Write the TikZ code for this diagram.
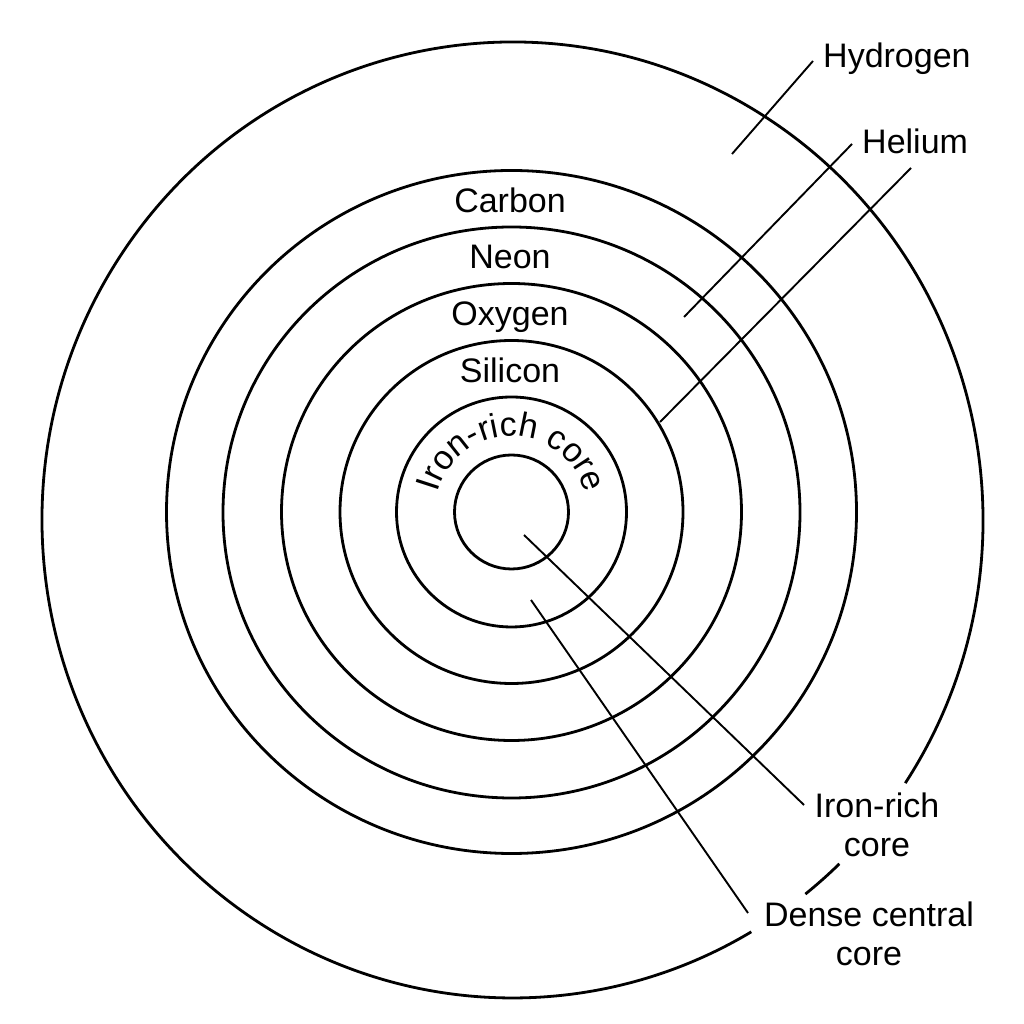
\documentclass[tikz,border=0pt]{standalone}
\usepackage{fontspec}
\setmainfont{Liberation Sans}
\usetikzlibrary{decorations.text}
\newcommand{\lblfont}{\fontsize{34}{39}\selectfont}
\begin{document}
\begin{tikzpicture}[x=1pt,y=1pt,
  ring/.style={line width=2.8pt},
  leader/.style={line width=1.9pt},
  lbl/.style={font=\lblfont, inner sep=0pt}]
\useasboundingbox (0,0) rectangle (1024,1024);
\coordinate (C) at (511.5,512);
\coordinate (O) at (512.5,504);
% rings
\draw[ring] (C) circle[radius=57];
\draw[ring] (C) circle[radius=115];
\draw[ring] (C) circle[radius=171.5];
\draw[ring] (C) ellipse[x radius=230, y radius=228.5];
\draw[ring] (511.5,511.5) ellipse[x radius=288.5, y radius=285.5];
\draw[ring] (C) ellipse[x radius=345, y radius=341.5];
\draw[ring] (O) ++(-33.4:470.5 and 478) arc[start angle=-33.4, end angle=300.5, x radius=470.5, y radius=478];
\draw[ring] (O) ++(-51.5:470.5 and 478) arc[start angle=-51.5, end angle=-46, x radius=470.5, y radius=478];
% ring labels
\node[lbl, anchor=base] (carbon) at (510,811) {Carbon};
\node[lbl, anchor=base] (neon) at (510,755) {Neon};
\node[lbl, anchor=base] (oxygen) at (510,698) {Oxygen};
\node[lbl, anchor=base] (silicon) at (510,641) {Silicon};
\path[decorate, decoration={text along path, text align=center, text={|\lblfont|Iron-rich core}}]
  (C) ++(170:76) arc[start angle=170, end angle=10, radius=76];
% outside labels
\node[lbl, anchor=base west] (hydrogen) at (823,956) {Hydrogen};
\node[lbl, anchor=base west] (helium) at (862,870) {Helium};
\node[lbl, anchor=base, align=center] (iron) at (877,167) {Iron-rich\\core};
\node[lbl, anchor=base, align=center] (dense) at (869,58) {Dense central\\core};
% leaders
\coordinate (hyA) at (732,870); \coordinate (hyB) at (813,963);
\coordinate (heA) at (684,707); \coordinate (heB) at (852,880);
\coordinate (siA) at (660,602); \coordinate (siB) at (911,856);
\coordinate (irA) at (524,489); \coordinate (irB) at (804,219);
\coordinate (deA) at (531,424); \coordinate (deB) at (748,111);
\draw[leader] (hyA) -- (hyB);
\draw[leader] (heA) -- (heB);
\draw[leader] (siA) -- (siB);
\draw[leader] (irA) -- (irB);
\draw[leader] (deA) -- (deB);
\end{tikzpicture}
\end{document}
